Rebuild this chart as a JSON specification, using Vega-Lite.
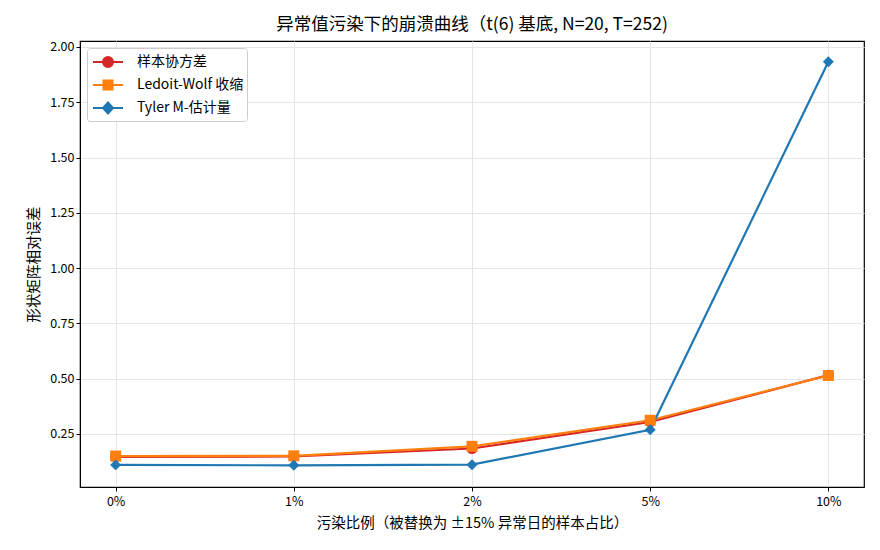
{
  "$schema": "https://vega.github.io/schema/vega-lite/v6.json",
  "width": 784,
  "height": 446,
  "autosize": {"type": "none"},
  "padding": {"left": 80, "top": 41, "right": 16, "bottom": 63},
  "background": "white",
  "config": {
    "font": "Noto Sans CJK SC",
    "view": {"stroke": "black", "strokeWidth": 1.2},
    "axis": {
      "domainColor": "black",
      "tickColor": "black",
      "labelColor": "black",
      "titleColor": "black",
      "labelFontSize": 12.5,
      "titleFontSize": 14.5,
      "titleFontWeight": "normal",
      "gridColor": "#e5e5e5",
      "tickSize": 4
    }
  },
  "title": {
    "text": "异常值污染下的崩溃曲线（t(6) 基底, N=20, T=252)",
    "fontSize": 17.5,
    "fontWeight": "normal",
    "color": "black",
    "offset": 7
  },
  "data": {
    "values": [
      {"contam": "0%", "method": "样本协方差", "marker": "circle", "err": 0.146},
      {"contam": "1%", "method": "样本协方差", "marker": "circle", "err": 0.148},
      {"contam": "2%", "method": "样本协方差", "marker": "circle", "err": 0.184},
      {"contam": "5%", "method": "样本协方差", "marker": "circle", "err": 0.304},
      {"contam": "10%", "method": "样本协方差", "marker": "circle", "err": 0.516},
      {"contam": "0%", "method": "Ledoit-Wolf 收缩", "marker": "square", "err": 0.150},
      {"contam": "1%", "method": "Ledoit-Wolf 收缩", "marker": "square", "err": 0.151},
      {"contam": "2%", "method": "Ledoit-Wolf 收缩", "marker": "square", "err": 0.194},
      {"contam": "5%", "method": "Ledoit-Wolf 收缩", "marker": "square", "err": 0.312},
      {"contam": "10%", "method": "Ledoit-Wolf 收缩", "marker": "square", "err": 0.514},
      {"contam": "0%", "method": "Tyler M-估计量", "marker": "diamond", "err": 0.110},
      {"contam": "1%", "method": "Tyler M-估计量", "marker": "diamond", "err": 0.108},
      {"contam": "2%", "method": "Tyler M-估计量", "marker": "diamond", "err": 0.111},
      {"contam": "5%", "method": "Tyler M-估计量", "marker": "diamond", "err": 0.269},
      {"contam": "10%", "method": "Tyler M-估计量", "marker": "diamond", "err": 1.933}
    ]
  },
  "encoding": {
    "x": {
      "field": "contam",
      "type": "ordinal",
      "sort": ["0%", "1%", "2%", "5%", "10%"],
      "scale": {"type": "point", "padding": 0.2},
      "title": "污染比例（被替换为 ±15% 异常日的样本占比）",
      "axis": {"labelAngle": 0, "grid": true, "labelPadding": 4, "titlePadding": 9}
    },
    "y": {
      "field": "err",
      "type": "quantitative",
      "scale": {"domain": [0.01, 2.027], "nice": false, "zero": false},
      "title": "形状矩阵相对误差",
      "axis": {"values": [0.25, 0.5, 0.75, 1.0, 1.25, 1.5, 1.75, 2.0], "format": ".2f", "grid": true, "titlePadding": 8}
    },
    "color": {
      "field": "method",
      "type": "nominal",
      "sort": ["样本协方差", "Ledoit-Wolf 收缩", "Tyler M-估计量"],
      "scale": {"domain": ["样本协方差", "Ledoit-Wolf 收缩", "Tyler M-估计量"], "range": ["#d62728", "#ff7f0e", "#1f77b4"]},
      "legend": {
        "title": null,
        "orient": "top-left",
        "offset": 7,
        "fillColor": "white",
        "strokeColor": "#cccccc",
        "cornerRadius": 3,
        "padding": 3,
        "labelFontSize": 14,
        "labelColor": "black",
        "symbolSize": 400,
        "rowPadding": 3,
        "labelOffset": 25,
        "encode": {
          "symbols": {
            "update": {
              "shape": {"signal": "datum.value === '样本协方差' ? 'M-0.8,0H2.2M0.2,0A0.5,0.5 0 1,0 1.2,0A0.5,0.5 0 1,0 0.2,0Z' : datum.value === 'Ledoit-Wolf 收缩' ? 'M-0.8,0H2.2M0.25,-0.45H1.15V0.45H0.25Z' : 'M-0.8,0H2.2M0.7,-0.55L1.2,0L0.7,0.55L0.2,0Z'"},
              "stroke": {"signal": "datum.value === '样本协方差' ? '#d62728' : datum.value === 'Ledoit-Wolf 收缩' ? '#ff7f0e' : '#1f77b4'"},
              "fill": {"signal": "datum.value === '样本协方差' ? '#d62728' : datum.value === 'Ledoit-Wolf 收缩' ? '#ff7f0e' : '#1f77b4'"},
              "strokeWidth": {"value": 2},
              "opacity": {"value": 1},
              "fillOpacity": {"value": 1},
              "strokeOpacity": {"value": 1}
            }
          }
        }
      }
    }
  },
  "layer": [
    {
      "mark": {"type": "line", "strokeWidth": 2.2},
      "encoding": {
        "detail": {"field": "method"}
      }
    },
    {
      "mark": {"type": "point", "filled": true, "opacity": 1, "size": 120},
      "encoding": {
        "shape": {
          "field": "marker",
          "type": "nominal",
          "scale": {"domain": ["circle", "square", "diamond"], "range": ["circle", "square", "diamond"]},
          "legend": null
        }
      }
    }
  ]
}
